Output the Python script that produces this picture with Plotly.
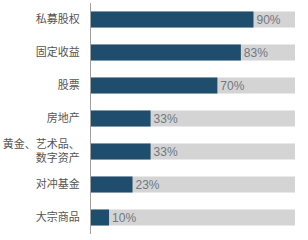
import plotly.graph_objects as go

categories = ["私募股权", "固定收益", "股票", "房地产", "黄金、艺术品、<br>数字资产", "对冲基金", "大宗商品"]
values = [90, 83, 70, 33, 33, 23, 10]
labels = ["90%", "83%", "70%", "33%", "33%", "23%", "10%"]
track = [113] * len(categories)

fig = go.Figure()
fig.add_trace(go.Bar(
    y=categories, x=track, orientation="h",
    marker=dict(color="#d4d4d4", line=dict(width=0)),
    width=0.485, hoverinfo="skip", showlegend=False,
))
fig.add_trace(go.Bar(
    y=categories, x=values, orientation="h",
    marker=dict(color="#1e4d6d", line=dict(width=0)),
    width=0.485, text=labels, textposition="outside",
    textfont=dict(family="Liberation Sans, Arial, sans-serif", size=12, color="#6f7882"),
    cliponaxis=False, showlegend=False,
))

fig.update_layout(
    width=308, height=240,
    margin=dict(l=89, r=13, t=3, b=6),
    barmode="overlay",
    plot_bgcolor="white", paper_bgcolor="white",
    font=dict(family="Noto Sans CJK SC, sans-serif", size=11, color="#555555"),
    xaxis=dict(range=[0, 113], visible=False, fixedrange=True),
    yaxis=dict(
        categoryorder="array", categoryarray=categories, autorange="reversed",
        showline=True, linecolor="#a0a0a0", linewidth=1,
        showgrid=False, zeroline=False, ticks="", ticklabelstandoff=8,
        tickfont=dict(family="Noto Sans CJK SC, sans-serif", size=11, color="#555555"),
    ),
)

fig.write_html("out.html")
